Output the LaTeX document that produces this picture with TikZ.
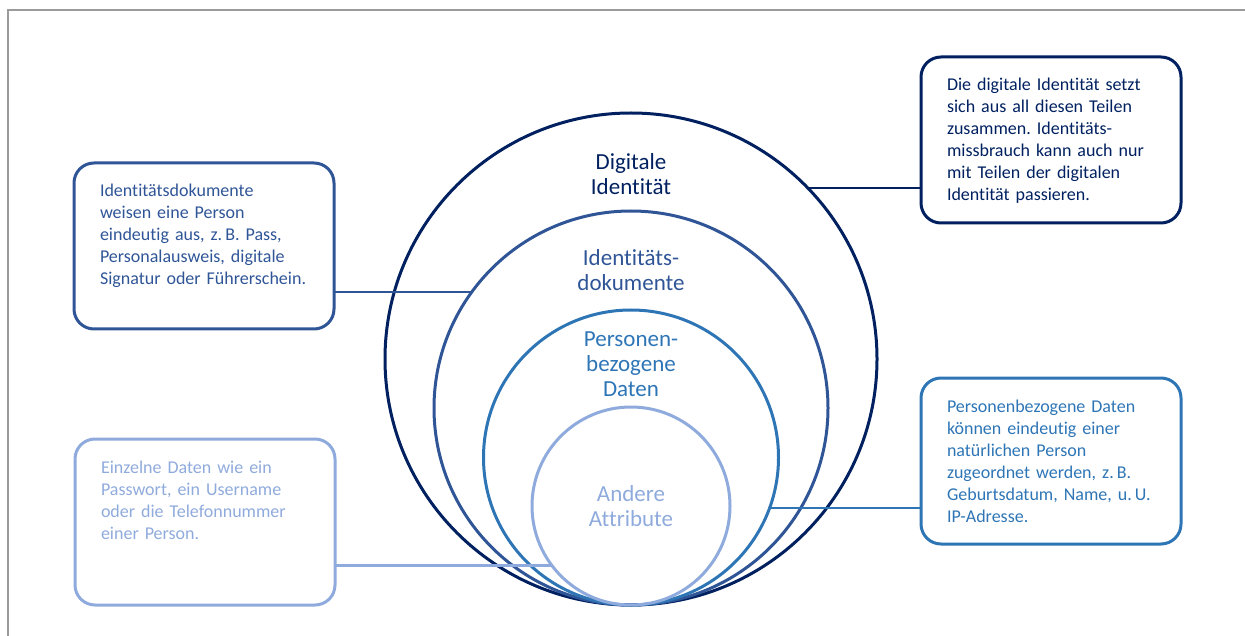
\documentclass[tikz,border=0pt]{standalone}
\usepackage{fontspec}
\setmainfont{Carlito}[Ligatures=NoCommon]
\usepackage{xcolor}
\usepackage{tikz}
\usetikzlibrary{positioning,calc}
\definecolor{navy}{HTML}{002060}
\definecolor{dokblue}{HTML}{2F5597}
\definecolor{persblue}{HTML}{2E75B6}
\definecolor{attrblue}{HTML}{8FAADC}
\definecolor{framegray}{HTML}{9B9B9B}
\frenchspacing

\begin{document}
\begin{tikzpicture}[x=1pt,y=-1pt,line width=3pt,
		ring/.style={circle,draw,inner sep=0pt,outer sep=0pt,anchor=south},
		ringlabel/.style={align=center,font=\fontsize{23}{25}\selectfont},
		infobox/.style={draw,rounded corners=20pt,anchor=north west,outer sep=0pt,
			inner xsep=26pt,inner ysep=0pt,text width=208pt,align=left,
			font=\fontsize{18}{22}\selectfont,text height=34pt,text depth=132pt},
		link/.style={line width=2.5pt}]
	\useasboundingbox (0,0) rectangle (1245,636);
	\draw[framegray,line width=2pt] (7.5,636) -- (7.5,10) -- (1245,10);
	
	% nested circles, all touching at the bottom
	\coordinate (base) at (631,605);
	\node[ring,navy,minimum size=492pt]     (ident) at (base) {};
	\node[ring,dokblue,minimum size=394pt]  (doks)  at (base) {};
	\node[ring,persblue,minimum size=295pt] (pers)  at (base) {};
	\node[ring,attrblue,minimum size=198pt] (attr)  at (base) {};
	
	\node[ringlabel,navy]     (identlbl) at (631,174) {Digitale\\Identität};
	\node[ringlabel,dokblue]  (dokslbl)  at (631,270) {Identitäts-\\dokumente};
	\node[ringlabel,persblue] (perslbl)  at (631,364) {Personen-\\bezogene\\Daten};
	\node[ringlabel,attrblue] (attrlbl)  at (attr.center) {Andere\\Attribute};
	
	% explanation boxes
	\node[infobox,navy] (identbox) at (921,57) {Die digitale Identität setzt\\
		sich aus all diesen Teilen\\zusammen. Identitäts-\\missbrauch kann auch nur\\
		mit Teilen der digitalen\\Identität passieren.};
	\node[infobox,dokblue] (doksbox) at (74,163) {Identitätsdokumente\\
		weisen eine Person\\eindeutig aus, z.\,B. Pass,\\Personalausweis, digitale\\
		\mbox{Signatur oder Führerschein.}};
	\node[infobox,persblue] (persbox) at (921,378) {Personenbezogene Daten\\
		können eindeutig einer\\natürlichen Person\\zugeordnet werden, z.\,B.\\
		Geburtsdatum, Name, u.\,U.\\IP-Adresse.};
	\node[infobox,attrblue] (attrbox) at (75,439) {Einzelne Daten wie ein\\
		Passwort, ein Username\\oder die Telefonnummer\\einer Person.};
	
	\path (ident.44) edge[link,navy] (ident.44 -| identbox.west)
	(doks.144) edge[link,dokblue] (doks.144 -| doksbox.east)
	(pers.-20) edge[link,persblue] (pers.-20 -| persbox.west)
	(attr.217) edge[link,attrblue] (attr.217 -| attrbox.east);
\end{tikzpicture}
\end{document}
